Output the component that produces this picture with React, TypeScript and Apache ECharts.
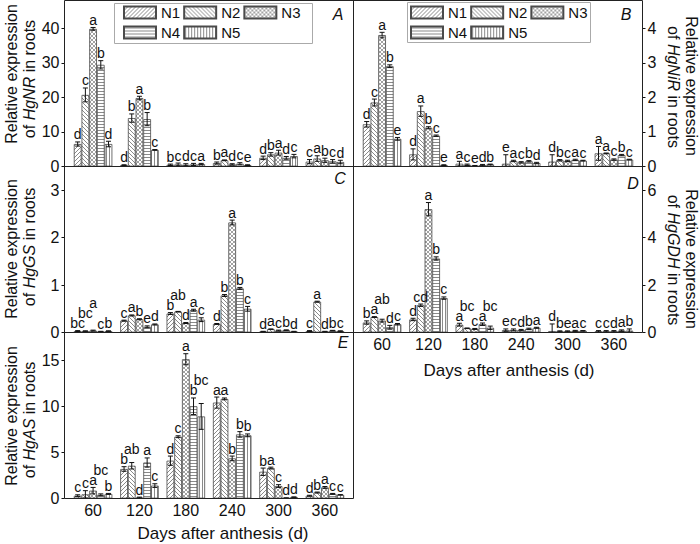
import React, { useEffect, useRef } from "react";
import * as echarts from "echarts";

const days = ["60", "120", "180", "240", "300", "360"];
const treatments = ["N1", "N2", "N3", "N4", "N5"];

// A: HgNR (rows N1..N5, columns days)
const nrMean = [
  [6.5, 0.4, 0.5, 1.0, 2.5, 1.4],
  [20.7, 14.0, 0.6, 1.8, 3.5, 2.3],
  [39.8, 19.8, 0.5, 0.6, 4.0, 1.8],
  [29.4, 13.7, 0.6, 0.8, 2.5, 1.5],
  [6.5, 4.8, 0.7, 0.4, 3.0, 1.3],
];
const nrErr = [
  [0.6, 0.1, 0.2, 0.3, 0.5, 0.6],
  [2.0, 1.2, 0.4, 0.1, 0.5, 0.8],
  [0.4, 0.5, 0.3, 0.2, 0.7, 0.6],
  [1.2, 1.9, 0.3, 0.3, 0.4, 0.5],
  [0.8, 0.1, 0.2, 0.1, 0.5, 0.5],
];
const nrSig = [
  ["d", "d", "b", "b", "d", "c"],
  ["c", "b", "c", "a", "b", "a"],
  ["a", "a", "d", "d", "a", "b"],
  ["b", "b", "c", "c", "d", "c"],
  ["d", "c", "a", "e", "c", "d"],
];

// B: HgNiR
const nirMean = [
  [1.22, 0.35, 0.08, 0.08, 0.14, 0.38],
  [1.85, 1.6, 0.05, 0.16, 0.18, 0.38],
  [3.8, 1.12, 0.02, 0.12, 0.16, 0.2],
  [2.9, 0.89, 0.04, 0.15, 0.19, 0.33],
  [0.8, 0.04, 0.06, 0.1, 0.17, 0.2],
];
const nirErr = [
  [0.08, 0.16, 0.07, 0.26, 0.2, 0.2],
  [0.1, 0.15, 0.02, 0.02, 0.02, 0.01],
  [0.08, 0.03, 0.01, 0.02, 0.02, 0.02],
  [0.04, 0.02, 0.02, 0.02, 0.02, 0.02],
  [0.04, 0.01, 0.01, 0.02, 0.01, 0.01],
];
const nirSig = [
  ["d", "d", "a", "e", "d", "a"],
  ["c", "a", "c", "a", "b", "a"],
  ["a", "b", "e", "c", "c", "c"],
  ["b", "c", "d", "b", "a", "b"],
  ["e", "e", "b", "d", "c", "c"],
];

// C: HgGS
const gsMean = [
  [0.03, 0.25, 0.4, 0.18, 0.02, 0.03],
  [0.03, 0.36, 0.44, 0.78, 0.07, 0.65],
  [0.04, 0.28, 0.2, 2.32, 0.04, 0.02],
  [0.02, 0.12, 0.47, 0.93, 0.05, 0.04],
  [0.03, 0.17, 0.27, 0.5, 0.02, 0.03],
];
const gsErr = [
  [0.01, 0.01, 0.02, 0.01, 0.005, 0.01],
  [0.005, 0.01, 0.005, 0.02, 0.005, 0.01],
  [0.01, 0.01, 0.01, 0.05, 0.01, 0.005],
  [0.005, 0.02, 0.02, 0.02, 0.005, 0.005],
  [0.005, 0.01, 0.04, 0.05, 0.005, 0.005],
];
const gsSig = [
  ["bc", "c", "b", "d", "d", "c"],
  ["bc", "a", "ab", "b", "a", "a"],
  ["a", "b", "d", "a", "c", "d"],
  ["c", "e", "a", "b", "b", "b"],
  ["b", "d", "c", "c", "d", "c"],
];

// D: HgGDH
const gdhMean = [
  [0.42, 0.55, 0.33, 0.1, 0.06, 0.05],
  [0.65, 1.15, 0.18, 0.11, 0.05, 0.05],
  [0.5, 5.2, 0.15, 0.1, 0.05, 0.05],
  [0.22, 3.12, 0.35, 0.15, 0.07, 0.08],
  [0.35, 1.45, 0.2, 0.2, 0.07, 0.08],
];
const gdhErr = [
  [0.07, 0.05, 0.06, 0.05, 0.3, 0.03],
  [0.02, 0.05, 0.01, 0.04, 0.02, 0.03],
  [0.06, 0.28, 0.02, 0.03, 0.02, 0.03],
  [0.08, 0.07, 0.05, 0.03, 0.02, 0.03],
  [0.03, 0.05, 0.07, 0.02, 0.01, 0.07],
];
const gdhSig = [
  ["b", "d", "a", "e", "d", "c"],
  ["a", "cd", "bc", "c", "b", "c"],
  ["ab", "a", "c", "d", "e", "d"],
  ["d", "b", "a", "b", "a", "a"],
  ["c", "c", "bc", "a", "c", "b"],
];

// E: HgAS
const asMean = [
  [0.3, 3.2, 4.1, 10.4, 2.9, 0.3],
  [0.45, 3.55, 6.7, 10.8, 3.3, 0.65],
  [0.85, 0.1, 15.1, 4.35, 1.35, 1.2],
  [0.4, 3.9, 10.0, 6.95, 0.05, 0.5],
  [0.5, 1.4, 8.9, 6.85, 0.15, 0.4],
];
const asErr = [
  [0.1, 0.25, 0.5, 0.6, 0.4, 0.05],
  [0.4, 0.35, 0.1, 0.1, 0.1, 0.05],
  [0.35, 0.05, 0.6, 0.25, 0.15, 0.1],
  [0.1, 0.5, 0.9, 0.3, 0.02, 0.05],
  [0.05, 0.2, 1.4, 0.15, 0.02, 0.02],
];
const asSig = [
  ["c", "b", "d", "a", "b", "d"],
  ["c", "ab", "c", "a", "a", "b"],
  ["a", "d", "a", "b", "c", "a"],
  ["bc", "a", "b", "b", "d", "c"],
  ["b", "c", "bc", "b", "d", "c"],
];

const FONT = "'Liberation Sans', Arial, Helvetica, sans-serif";
const BW = 7.7;
const PAD = 5.4;
const XL = 64.5, XM = 353.5, XR = 642.5;
const Y0 = 0.5, Y1 = 166.5, Y2 = 332.5, Y3 = 498.5;
const HATCH = "#8a8a8a";
const HATCH_X = "#a2a2a2";
const INK = "#111";
const SIG_FS = 14;
const CHAR_W = 7.8;
const LIFT_H = 10;

const panels = [
  { letter: "A", gene: "HgNR", mean: nrMean, err: nrErr, sig: nrSig, x0: XL, x1: XM, y0: Y0, y1: Y1, max: 48, interval: 10, side: "left", xLabels: false, tY: [74, 79], lPos: [338, 14] },
  { letter: "B", gene: "HgNiR", mean: nirMean, err: nirErr, sig: nirSig, x0: XM, x1: XR, y0: Y0, y1: Y1, max: 4.8, interval: 1, side: "right", xLabels: false, tY: [86, 87], lPos: [626, 14] },
  { letter: "C", gene: "HgGS", mean: gsMean, err: gsErr, sig: gsSig, x0: XL, x1: XM, y0: Y1, y1: Y2, max: 3.5, interval: 1, side: "left", xLabels: false, tY: [249, 247], lPos: [340, 178] },
  { letter: "D", gene: "HgGDH", mean: gdhMean, err: gdhErr, sig: gdhSig, x0: XM, x1: XR, y0: Y1, y1: Y2, max: 7, interval: 2, side: "right", xLabels: true, tY: [259, 260], lPos: [633, 183] },
  { letter: "E", gene: "HgAS", mean: asMean, err: asErr, sig: asSig, x0: XL, x1: XM, y0: Y2, y1: Y3, max: 18, interval: 5, side: "left", xLabels: true, tY: [416, 420], lPos: [343, 342] },
];

function makePattern(kind: number) {
  const w = kind === 4 ? 3 : 4;
  const h = kind === 3 ? 3 : 4;
  const c = document.createElement("canvas");
  c.width = w;
  c.height = h;
  const ctx = c.getContext("2d")!;
  ctx.fillStyle = "#fff";
  ctx.fillRect(0, 0, w, h);
  ctx.fillStyle = kind === 2 ? HATCH_X : HATCH;
  const px = (x: number, y: number) => ctx.fillRect(x, y, 1, 1);
  if (kind === 0) for (let i = 0; i < 4; i++) px(i, 3 - i);
  if (kind === 1) for (let i = 0; i < 4; i++) px(i, i);
  if (kind === 2) for (let i = 0; i < 4; i++) { px(i, i); px(i, 3 - i); }
  if (kind === 3) ctx.fillRect(0, 1, w, 1);
  if (kind === 4) ctx.fillRect(1, 0, 1, h);
  return { image: c.toDataURL(), repeat: "repeat", imageWidth: w, imageHeight: h };
}

// lift letters that would collide with a neighbour's letter (layout only)
function computeLifts(p: any): number[][] {
  const ppu = (p.y1 - p.y0) / p.max;
  return days.map((_, i) => {
    const placed: { x: number; w: number; b: number }[] = [];
    return treatments.map((_, k) => {
      const x = k * BW;
      const w = p.sig[k][i].length * CHAR_W;
      const base = -(p.mean[k][i] + p.err[k][i]) * ppu;
      let b = base;
      let moved = true;
      let guard = 0;
      while (moved && guard++ < 20) {
        moved = false;
        for (const q of placed) {
          const hOv = x - w / 2 < q.x + q.w / 2 - 0.5 && q.x - q.w / 2 < x + w / 2 - 0.5;
          const vOv = b - LIFT_H < q.b - 0.3 && q.b - LIFT_H < b - 0.3;
          if (hOv && vOv) {
            b = q.b - LIFT_H;
            moved = true;
          }
        }
      }
      placed.push({ x, w, b });
      return base - b;
    });
  });
}

export default function App() {
  const ref = useRef<HTMLDivElement>(null);
  useEffect(() => {
    if (!ref.current) return;
    const chart = echarts.init(ref.current, undefined, { renderer: "svg" });
    const patterns = treatments.map((_, k) => makePattern(k));

    const grid: any[] = [];
    const xAxis: any[] = [];
    const yAxis: any[] = [];
    const series: any[] = [];
    const graphic: any[] = [];

    panels.forEach((p, pi) => {
      const lifts = computeLifts(p);
      grid.push({
        left: p.x0 + PAD,
        top: p.y0,
        width: p.x1 - p.x0 - 2 * PAD,
        height: p.y1 - p.y0,
        containLabel: false,
        outerBoundsMode: "none",
      });
      xAxis.push({
        type: "category",
        gridIndex: pi,
        data: days,
        boundaryGap: true,
        axisLine: { show: false },
        axisTick: { show: false },
        axisLabel: { show: p.xLabels, fontSize: 16, fontFamily: FONT, color: INK, margin: 4 },
        splitLine: { show: false },
      });
      yAxis.push({
        type: "value",
        gridIndex: pi,
        position: p.side,
        offset: PAD,
        min: 0,
        max: p.max,
        interval: p.interval,
        axisLine: { show: false },
        axisTick: { show: true, inside: false, length: 3, lineStyle: { color: INK, width: 1 } },
        axisLabel: { fontSize: 16, fontFamily: FONT, color: INK, margin: 5, showMaxLabel: false },
        splitLine: { show: false },
      });
      treatments.forEach((name, k) => {
        series.push({
          type: "bar",
          name,
          xAxisIndex: pi,
          yAxisIndex: pi,
          data: p.mean[k],
          barWidth: BW,
          barGap: "0%",
          itemStyle: { color: patterns[k], borderColor: "#4a4a4a", borderWidth: 0.8 },
          emphasis: { disabled: true },
          silent: true,
        });
      });
      treatments.forEach((name, k) => {
        series.push({
          type: "custom",
          name: "err-" + name,
          xAxisIndex: pi,
          yAxisIndex: pi,
          z: 5,
          silent: true,
          data: p.mean[k].map((v, i) => [i, v]),
          encode: { x: 0, y: 1 },
          renderItem: (params: any, api: any) => {
            const i = params.dataIndex;
            const m = p.mean[k][i];
            const e = p.err[k][i];
            const cx = api.coord([i, 0])[0] + (k - 2) * BW;
            const yT = api.coord([i, m + e])[1];
            const yB = api.coord([i, Math.max(0, m - e)])[1];
            const cap = 2.5;
            const ls = { stroke: INK, lineWidth: 1 };
            return {
              type: "group",
              children: [
                { type: "line", shape: { x1: cx, y1: yT, x2: cx, y2: yB }, style: ls },
                { type: "line", shape: { x1: cx - cap, y1: yT, x2: cx + cap, y2: yT }, style: ls },
                { type: "line", shape: { x1: cx - cap, y1: yB, x2: cx + cap, y2: yB }, style: ls },
                {
                  type: "text",
                  x: cx,
                  y: yT - 0.5 - lifts[i][k],
                  style: { text: p.sig[k][i], align: "center", verticalAlign: "bottom", fontSize: SIG_FS, fontFamily: FONT, fill: INK },
                },
              ],
            };
          },
        });
      });

      // y-axis titles
      const rich = {
        n: { fontSize: 16, fontFamily: FONT, fill: INK },
        i: { fontSize: 16, fontFamily: FONT, fill: INK, fontStyle: "italic" },
      };
      const left = p.side === "left";
      const rot = left ? Math.PI / 2 : -Math.PI / 2;
      graphic.push({
        type: "text",
        x: left ? 11 : 691,
        y: p.tY[0],
        rotation: rot,
        style: { text: "Relative expression", fontSize: 16, fontFamily: FONT, fill: INK, align: "center", verticalAlign: "middle" },
      });
      graphic.push({
        type: "text",
        x: left ? 29 : 673,
        y: p.tY[1],
        rotation: rot,
        style: {
          text: "{n|of }{i|" + p.gene + "}{n| in roots}",
          rich,
          fontSize: 16,
          fontFamily: FONT,
          fill: INK,
          align: "center",
          verticalAlign: "middle",
        },
      });
      // panel letter
      graphic.push({
        type: "text",
        x: p.lPos[0],
        y: p.lPos[1],
        style: { text: p.letter, fontSize: 16, fontStyle: "italic", fontFamily: FONT, fill: INK, align: "center", verticalAlign: "middle" },
      });
    });

    // frame lines
    const frame = [
      [XL, Y0, XR, Y0],
      [XL, Y1, XR, Y1],
      [XL, Y2, XR, Y2],
      [XL, Y3, XM, Y3],
      [XL, Y0, XL, Y3],
      [XM, Y0, XM, Y3],
      [XR, Y0, XR, Y2],
    ];
    frame.forEach(([x1, y1, x2, y2]) => {
      graphic.push({ type: "line", z: 10, shape: { x1, y1, x2, y2 }, style: { stroke: "#222", lineWidth: 1 } });
    });

    // x-axis titles
    graphic.push({
      type: "text",
      x: 509,
      y: 370,
      style: { text: "Days after anthesis (d)", fontSize: 17, fontFamily: FONT, fill: INK, align: "center", verticalAlign: "middle" },
    });
    graphic.push({
      type: "text",
      x: 223,
      y: 533,
      style: { text: "Days after anthesis (d)", fontSize: 17, fontFamily: FONT, fill: INK, align: "center", verticalAlign: "middle" },
    });

    // legend boxes
    graphic.push({ type: "rect", shape: { x: 114.5, y: 3.5, width: 198, height: 40 }, style: { fill: "none", stroke: "#aaa", lineWidth: 1 } });
    graphic.push({ type: "rect", shape: { x: 407.5, y: 2.5, width: 183, height: 40 }, style: { fill: "none", stroke: "#aaa", lineWidth: 1 } });

    const legendBase = {
      itemWidth: 32,
      itemHeight: 12,
      itemGap: 3,
      padding: 0,
      icon: "rect",
      selectedMode: false,
      textStyle: { fontSize: 15, fontFamily: FONT, color: INK },
    };

    chart.setOption({
      animation: false,
      backgroundColor: "#fff",
      grid,
      xAxis,
      yAxis,
      series,
      graphic,
      legend: [
        { ...legendBase, data: ["N1", "N2", "N3"], left: 123, top: 5 },
        { ...legendBase, data: ["N4", "N5"], left: 123, top: 25 },
        { ...legendBase, data: ["N1", "N2", "N3"], left: 410, top: 5 },
        { ...legendBase, data: ["N4", "N5"], left: 410, top: 25 },
      ],
    });
    return () => chart.dispose();
  }, []);
  return <div ref={ref} style={{ position: "absolute", left: 0, top: 0, width: 700, height: 544 }} />;
}
